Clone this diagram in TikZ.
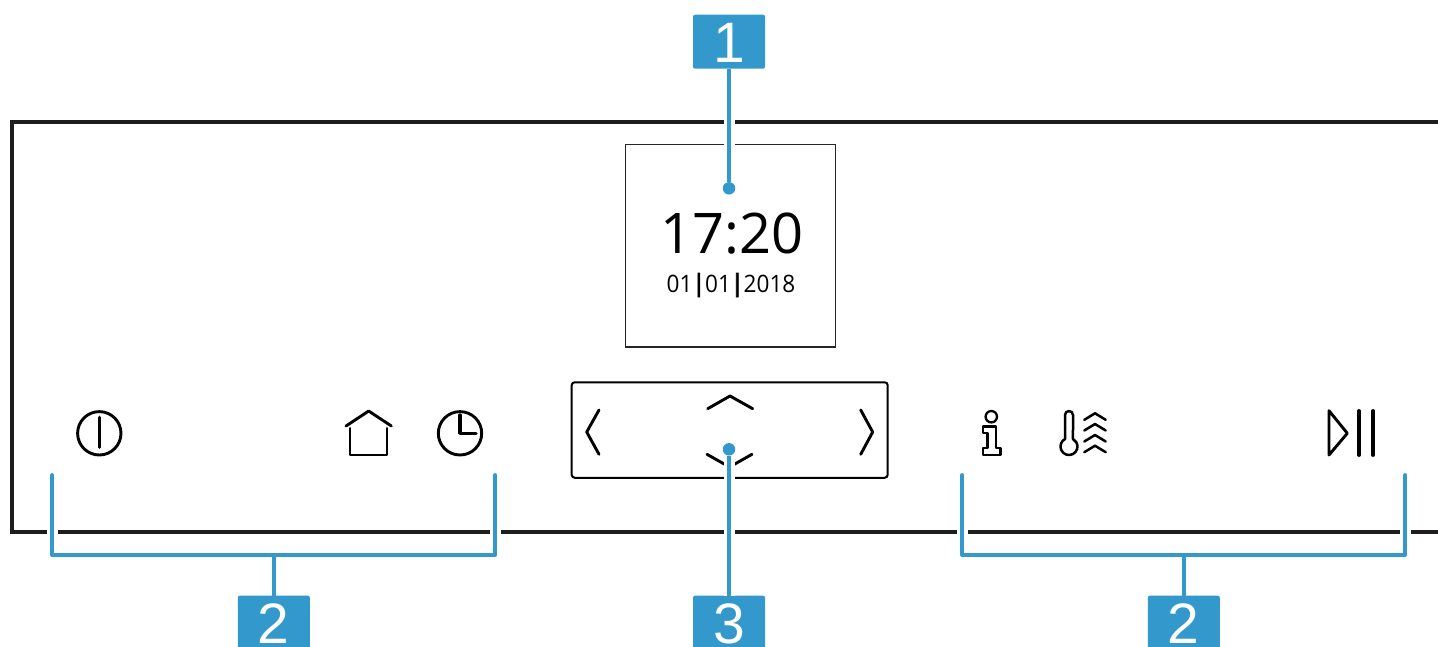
\documentclass[tikz,border=0pt]{standalone}
\usepackage{fontspec}
\setmainfont{Open Sans}
\newfontfamily\tagfont{Liberation Sans}
\newfontfamily\barfont[FakeBold=3]{DejaVu Sans}
\newfontfamily\panelfont{Open Sans}
\newfontfamily\datefont[FakeStretch=.94]{Open Sans}
\definecolor{tagblue}{HTML}{3398CC}
\definecolor{framegray}{HTML}{1D1D1B}
\newcommand{\datebar}{\kern2.3pt\raisebox{1.5pt}{\barfont\fontsize{24}{24}\selectfont|}\kern2.3pt}
\tikzset{
  tagbox/.style={fill=tagblue,rounded corners=2pt,minimum width=72pt,minimum height=54pt,inner sep=0pt,text=white,text height=41pt,text depth=0pt,font=\tagfont\fontsize{57}{57}\selectfont},
  leader/.style={draw=tagblue,line width=3.8pt,line join=round},
  halo/.style={draw=white,line width=11pt},
  icon/.style={draw=black,line width=2.9pt,line cap=round,line join=round},
  leaderdot/.style={circle,fill=tagblue,inner sep=0pt,minimum size=12.5pt}
}
\begin{document}
\begin{tikzpicture}[x=1pt,y=-1pt]
\useasboundingbox (0,0) rectangle (1438,646);
\draw[framegray,line width=4pt] (1445,122) -- (12,122) -- (12,531.5) -- (1445,531.5);
\node[draw=black!85,line width=1.3pt,minimum width=210pt,minimum height=202.5pt,inner sep=0pt] (display) at (730.7,245.7) {};
\node[draw=black,line width=2pt,rounded corners=3pt,minimum width=316pt,minimum height=95.5pt,inner sep=0pt] (keypad) at (729.7,430) {};
\node[inner sep=0pt,font=\panelfont\fontsize{56}{56}\selectfont] (clock) at (732,234) {17:20};
\node[inner sep=0pt,font=\datefont\fontsize{24}{24}\selectfont] (date) at (731,285) {01\datebar 01\datebar 2018};
\draw[icon] (599,410) -- (586.7,432) -- (599,454.3);
\draw[icon] (860.7,410) -- (872.7,432) -- (860.7,454.3);
\draw[icon] (707.7,408.7) -- (730,396) -- (752.7,408.7);
\draw[icon] (707,454.3) -- (729.5,467) -- (752,454.3);
\draw[icon] (99.3,433.3) circle (21.7);
\draw[icon,line width=3.2pt] (99.3,417.3) -- (99.3,447.3);
\draw[icon] (346,426) -- (368.7,411) -- (391.3,426);
\draw[icon] (350,428.3) -- (350,455) -- (387,455) -- (387,428.3);
\draw[icon] (460,433.3) circle (21.7);
\draw[icon,line width=3.2pt] (460,415) -- (460,433.3) -- (476,433.3);
\draw[icon,line width=2.3pt] (991.3,416.7) circle (5.7);
\draw[icon,line width=2.3pt] (983,426.5) -- (996,426.5) -- (996,448.3) -- (1000.5,448.3) -- (1000.5,454.8) -- (983,454.8) -- (983,448.3) -- (987.5,448.3) -- (987.5,433) -- (983,433) -- cycle;
\draw[icon,line width=2.5pt] (1065,439) arc[start angle=242,end angle=-62,radius=8.5] -- (1073,415) arc[start angle=0,end angle=-180,radius=4] -- cycle;
\foreach \y in {413.3,424,435,445.7}\draw[icon,line width=2.5pt] (1084.3,\y+6.5) -- (1095,\y) -- (1105.7,\y+6.5);
\draw[icon] (1329,410.7) -- (1347.3,433.3) -- (1329,455) -- cycle;
\foreach \x in {1359,1373}\draw[icon,line width=3.2pt] (\x,410.7) -- (\x,455.3);
\node[tagbox] (tagone) at (729,41.7) {1};
\node[tagbox] (tagtwoa) at (273.8,622.7) {2};
\node[tagbox] (tagthree) at (729,622.7) {3};
\node[tagbox] (tagtwob) at (1183.8,622.7) {2};
\coordinate (displayend) at (729,188.3);
\coordinate (keypadend) at (729,449.3);
\coordinate (braceal) at (52.3,475);
\coordinate (braceam) at (273.8,555);
\coordinate (bracear) at (495.3,475);
\coordinate (bracebl) at (962.3,475);
\coordinate (bracebm) at (1183.8,555);
\coordinate (bracebr) at (1405.3,475);
\foreach \a/\b in {tagone.south/displayend,tagthree.north/keypadend}\draw[halo] (\a) -- (\b);
\foreach \a in {braceal,bracear,bracebl,bracebr}\draw[halo] (\a) -- ++(0,70);
\node[leaderdot] (displaydot) at (displayend) {};
\node[leaderdot] (keypaddot) at (keypadend) {};
\draw[leader] (tagone) -- (displaydot);
\draw[leader] (tagthree) -- (keypaddot);
\draw[leader] (tagtwoa) -- (braceam);
\draw[leader] (tagtwob) -- (bracebm);
\draw[leader,line cap=round] (braceal) |- (braceam) -| (bracear);
\draw[leader,line cap=round] (bracebl) |- (bracebm) -| (bracebr);
\end{tikzpicture}
\end{document}
